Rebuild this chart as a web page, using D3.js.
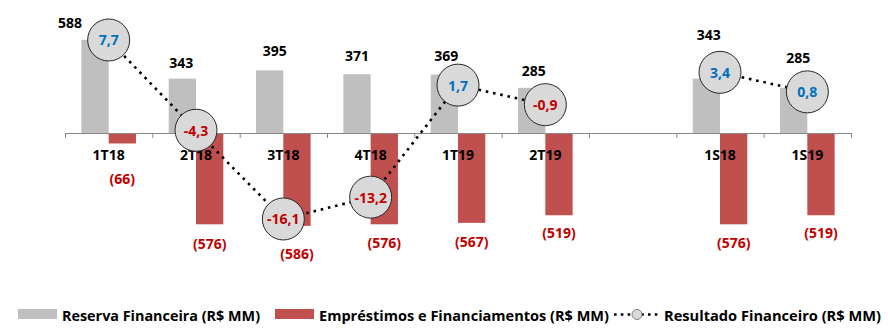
<!DOCTYPE html>
<html><head><meta charset="utf-8">
<script src="https://cdn.jsdelivr.net/npm/d3@7"></script>
<style>html,body{margin:0;padding:0;background:#fff;overflow:hidden}</style>
</head><body><svg id="c" width="888" height="332"></svg>
<script>
const categories = ["1T18","2T18","3T18","4T18","1T19","2T19","","1S18","1S19"];
const reserva = [588,343,395,371,369,285,null,343,285];
const emprestimos = [-66,-576,-586,-576,-567,-519,null,-576,-519];
const resultado = [7.7,-4.3,-16.1,-13.2,1.7,-0.9,null,3.4,0.8];
const reservaLabels = ["588","343","395","371","369","285","","343","285"];
const emprestimosLabels = ["(66)","(576)","(586)","(576)","(567)","(519)","","(576)","(519)"];
const resultadoLabels = ["7,7","-4,3","-16,1","-13,2","1,7","-0,9","","3,4","0,8"];
const seriesNames = ["Reserva Financeira (R$ MM)","Empréstimos e Financiamentos (R$ MM)","Resultado Financeiro (R$ MM)"];

// layout only: manual label nudges (as placed in the original)
const reservaLabelOffset = [[-25,-17],[-1,-16],[5,-20],[0,-19],[2,-19],[2,-17],[0,0],[2.5,-44],[4.5,-30]];
const emprestimosLabelOffset = [35,19,28,18,18.6,17.3,0,18,17.3];

const FONT = "'Open Sans', 'DejaVu Sans', sans-serif";
const svg = d3.select("#c");

const x = d3.scaleBand().domain(categories).range([65, 851]).padding(0);
const y = d3.scaleLinear().domain([-800, 800]).range([259.8, 6.2]);
const y2 = d3.scaleLinear().domain([-20, 20]).range([248.3, -52.5]);
const barW = 27.3;
const cx = (i) => x(categories[i]) + x.bandwidth() / 2;
const idx = d3.range(categories.length);

// bars
svg.append("g").selectAll("rect").data(idx.filter(i => reserva[i] != null)).join("rect")
  .attr("x", i => cx(i) - barW).attr("width", barW)
  .attr("y", i => y(reserva[i])).attr("height", i => y(0) - y(reserva[i]))
  .attr("fill", "#bfbfbf");
svg.append("g").selectAll("rect").data(idx.filter(i => emprestimos[i] != null)).join("rect")
  .attr("x", i => cx(i)).attr("width", barW)
  .attr("y", y(0)).attr("height", i => y(emprestimos[i]) - y(0))
  .attr("fill", "#c0504d");

// axis
const axisG = svg.append("g").attr("transform", `translate(0,${Math.round(y(0))})`)
  .call(d3.axisBottom(x).tickSize(0).tickSizeOuter(0).tickPadding(17));
axisG.select(".domain").attr("stroke", "#868686");
axisG.selectAll("text").attr("font-family", FONT).attr("font-weight", 700)
  .attr("font-size", 14).attr("fill", "#000");
axisG.append("g").selectAll("line").data(d3.range(categories.length + 1)).join("line")
  .attr("x1", i => 65.5 + i * x.step()).attr("x2", i => 65.5 + i * x.step())
  .attr("y1", 0).attr("y2", 5).attr("stroke", "#868686");

// bar labels
svg.append("g").selectAll("text").data(idx.filter(i => reserva[i] != null)).join("text")
  .attr("x", i => cx(i) - barW / 2 + reservaLabelOffset[i][0])
  .attr("y", i => y(reserva[i]) + reservaLabelOffset[i][1])
  .attr("text-anchor", "middle").attr("dominant-baseline", "central")
  .attr("font-family", FONT).attr("font-weight", 700).attr("font-size", 14)
  .attr("fill", "#000").text(i => reservaLabels[i]);
svg.append("g").selectAll("text").data(idx.filter(i => emprestimos[i] != null)).join("text")
  .attr("x", i => cx(i) + barW / 2)
  .attr("y", i => y(emprestimos[i]) + emprestimosLabelOffset[i])
  .attr("text-anchor", "middle").attr("dominant-baseline", "central")
  .attr("font-family", FONT).attr("font-weight", 700).attr("font-size", 14)
  .attr("fill", "#c00000").text(i => emprestimosLabels[i]);

// line
const line = d3.line().defined(i => resultado[i] != null).x(i => cx(i)).y(i => y2(resultado[i]));
svg.append("path").datum(idx).attr("d", line)
  .attr("fill", "none").attr("stroke", "#000").attr("stroke-width", 2.6)
  .attr("stroke-dasharray", "2.6 4.8");

const pts = idx.filter(i => resultado[i] != null);
svg.append("g").selectAll("circle").data(pts).join("circle")
  .attr("cx", i => cx(i)).attr("cy", i => y2(resultado[i])).attr("r", 21)
  .attr("fill", "#d9d9d9").attr("stroke", "#262626").attr("stroke-width", 1);
svg.append("g").selectAll("text").data(pts).join("text")
  .attr("x", i => cx(i)).attr("y", i => y2(resultado[i]))
  .attr("text-anchor", "middle").attr("dominant-baseline", "central")
  .attr("font-family", FONT).attr("font-weight", 700).attr("font-size", 14)
  .attr("fill", i => resultado[i] >= 0 ? "#0070c0" : "#c00000")
  .text(i => resultadoLabels[i]);

// legend
const lg = svg.append("g");
const ly = 314.5;
lg.append("rect").attr("x", 18).attr("y", 309).attr("width", 39).attr("height", 10).attr("fill", "#bfbfbf");
lg.append("rect").attr("x", 275).attr("y", 309).attr("width", 39).attr("height", 10).attr("fill", "#c0504d");
lg.append("line").attr("x1", 614).attr("x2", 658).attr("y1", ly).attr("y2", ly)
  .attr("stroke", "#000").attr("stroke-width", 2.6).attr("stroke-dasharray", "2.6 4.2");
lg.append("circle").attr("cx", 637).attr("cy", ly).attr("r", 5)
  .attr("fill", "#d9d9d9").attr("stroke", "#7f7f7f").attr("stroke-width", 1);
const legendPos = [[62, 198], [319, 290], [664, 217]];
lg.selectAll("text.lt").data(seriesNames).join("text").attr("class", "lt")
  .attr("x", (d, i) => legendPos[i][0]).attr("y", ly)
  .attr("dominant-baseline", "central")
  .attr("textLength", (d, i) => legendPos[i][1]).attr("lengthAdjust", "spacingAndGlyphs")
  .attr("font-family", FONT).attr("font-weight", 700).attr("font-size", 15)
  .attr("fill", "#000").text(d => d);
</script>
</body></html>
